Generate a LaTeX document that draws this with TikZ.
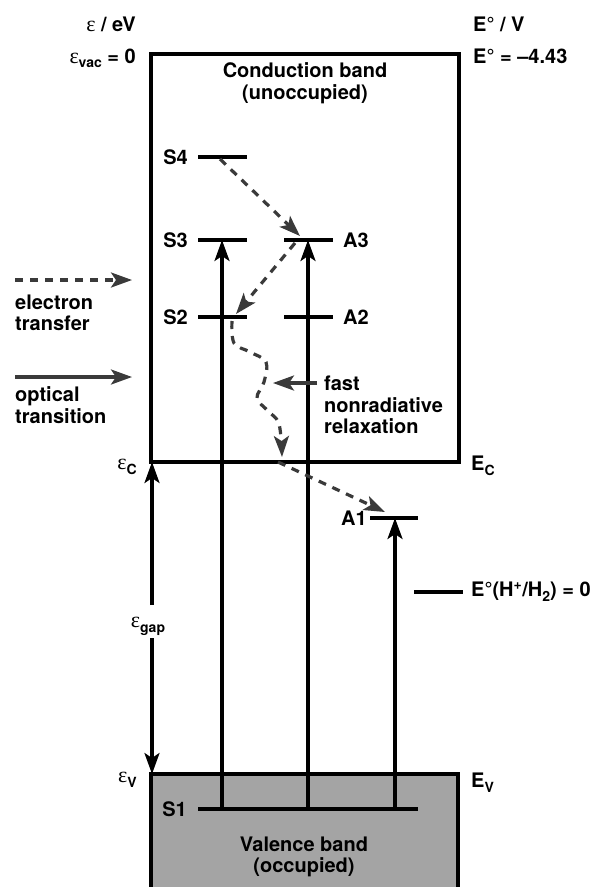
\documentclass[tikz,border=0pt]{standalone}
\usepackage{fontspec}
\setmainfont{TeX Gyre Heros}
\newfontfamily\grk{Liberation Serif}
\usetikzlibrary{arrows.meta}
\definecolor{dgray}{HTML}{3A3A3A}
\definecolor{vbgray}{HTML}{A4A4A4}
\newcommand\lowsub[1]{\raisebox{-0.45ex}{\fontsize{14}{14}\selectfont\bfseries #1}}
\newcommand\eps{{\grk\mdseries\fontsize{22}{22}\selectfont ε}}
\begin{document}
\begin{tikzpicture}[x=1pt,y=-1pt,
  every node/.style={font=\fontsize{20}{21.5}\selectfont\bfseries, inner sep=0pt},
  band/.style={line width=3.2pt},
  level/.style={line width=3.2pt},
  tipS/.style={-{Stealth[length=21pt,width=15pt,inset=5pt]}},
  optarrow/.style={line width=3.2pt, tipS},
  grayarrow/.style={line width=3.2pt, draw=dgray, tipS},
  etarrow/.style={line width=3.2pt, draw=dgray, dash pattern=on 8pt off 7pt, tipS},
 ]
\useasboundingbox (0,0) rectangle (595,887);
\fill[white] (0,0) rectangle (595,887);

% valence band
\coordinate (vbNW) at (151,774);
\coordinate (vbNE) at (458,774);
\coordinate (vbSW) at (151,890);
\coordinate (vbSE) at (458,890);
\fill[vbgray] (vbNW) rectangle (vbSE);
\draw[band] (vbSW) -- (vbNW) -- (vbNE) -- (vbSE);
\node[align=center] (vbtext) at (304,857) {Valence band\\(occupied)};

% conduction band
\coordinate (cbNW) at (151,54);
\coordinate (cbSE) at (459,462);
\draw[band] (cbNW) rectangle (cbSE);
\node[align=center] (cbtext) at (305,83) {Conduction band\\(unoccupied)};

% axis labels
\node[anchor=base east] (epsunit) at (136,31) {\eps{} / eV};
\node[anchor=base east] (epsvac) at (136,63) {\eps\lowsub{vac} = 0};
\node[anchor=base west] (Eunit) at (473,31) {E° / V};
\node[anchor=base west] (Evac) at (473,63) {E° = –4.43};
\node[anchor=east] (epsC) at (137,467) {\eps\lowsub{C}};
\node[anchor=west] (EC) at (471,466) {E\lowsub{C}};
\node[anchor=east] (epsV) at (137,780) {\eps\lowsub{V}};
\node[anchor=west] (EV) at (471,783) {E\lowsub{V}};

% band gap arrows
\node (egap) at (148,626) {\eps\lowsub{gap}};
\coordinate (gapU) at (152,605);
\coordinate (gapD) at (152,638);
\coordinate (epsCpt) at (152,462);
\coordinate (epsVpt) at (152,774);
\draw[optarrow] (gapU) -- (epsCpt);
\draw[optarrow] (gapD) -- (epsVpt);

% level coordinates
\coordinate (S4l) at (198,157); \coordinate (S4r) at (247,157);
\coordinate (S3l) at (198,240); \coordinate (S3r) at (247,240);
\coordinate (S2l) at (198,317); \coordinate (S2r) at (247,317);
\coordinate (A3l) at (284,240); \coordinate (A3r) at (333,240);
\coordinate (A2l) at (284,317); \coordinate (A2r) at (333,317);
\coordinate (A1l) at (370,518); \coordinate (A1r) at (418,518);
\coordinate (S1l) at (198,809); \coordinate (S1r) at (418,809);
\coordinate (Hl) at (414,592); \coordinate (Hr) at (463,592);

% optical transitions
\coordinate (o1b) at (222,809); \coordinate (o1t) at (222,240);
\coordinate (o2b) at (308,809); \coordinate (o2t) at (308,240);
\coordinate (o3b) at (395,809); \coordinate (o3t) at (395,518);
\draw[optarrow] (o1b) -- (o1t);
\draw[optarrow] (o2b) -- (o2t);
\draw[optarrow] (o3b) -- (o3t);

% levels
\foreach \a/\b in {S4l/S4r,S3l/S3r,S2l/S2r,A3l/A3r,A2l/A2r,A1l/A1r,S1l/S1r,Hl/Hr}
  \draw[level] (\a) -- (\b);

\node[anchor=east] (S4) at (188,157) {S4};
\node[anchor=east] (S3) at (188,240) {S3};
\node[anchor=east] (S2) at (188,317) {S2};
\node[anchor=east] (S1) at (187,809) {S1};
\node[anchor=west] (A3) at (343,240) {A3};
\node[anchor=west] (A2) at (343,317) {A2};
\node[anchor=east] (A1) at (367,518) {A1};
\node[anchor=west] (Hlab) at (471,592) {E°(H\textsuperscript{+}/H\lowsub{2}) = 0};

% electron transfer
\coordinate (e1s) at (220,159); \coordinate (e1e) at (300,236);
\coordinate (e2s) at (295,243); \coordinate (e2e) at (236,314);
\coordinate (e4s) at (278,462); \coordinate (e4e) at (385,512);
\draw[etarrow] (e1s) -- (e1e);
\draw[etarrow] (e2s) -- (e2e);
\draw[etarrow] plot[smooth, tension=0.6] coordinates {(232,321) (234,343) (250,352) (266,362) (264,382) (257,398) (268,411) (279,424) (282,457)};
\draw[etarrow] (e4s) -- (e4e);

% fast nonradiative relaxation
\node[align=left, anchor=west] (fast) at (324,405) {fast\\nonradiative\\relaxation};
\coordinate (fs) at (317,383); \coordinate (fe) at (273,383);
\draw[grayarrow] (fs) -- (fe);

% legend
\coordinate (l1s) at (15,280); \coordinate (l1e) at (132,280);
\draw[etarrow] (l1s) -- (l1e);
\node[align=left, anchor=west] (leg1) at (15,313) {electron\\transfer};
\coordinate (l2s) at (15,377); \coordinate (l2e) at (132,377);
\draw[grayarrow] (l2s) -- (l2e);
\node[align=left, anchor=west] (leg2) at (15,405) {optical\\transition};
\end{tikzpicture}
\end{document}
